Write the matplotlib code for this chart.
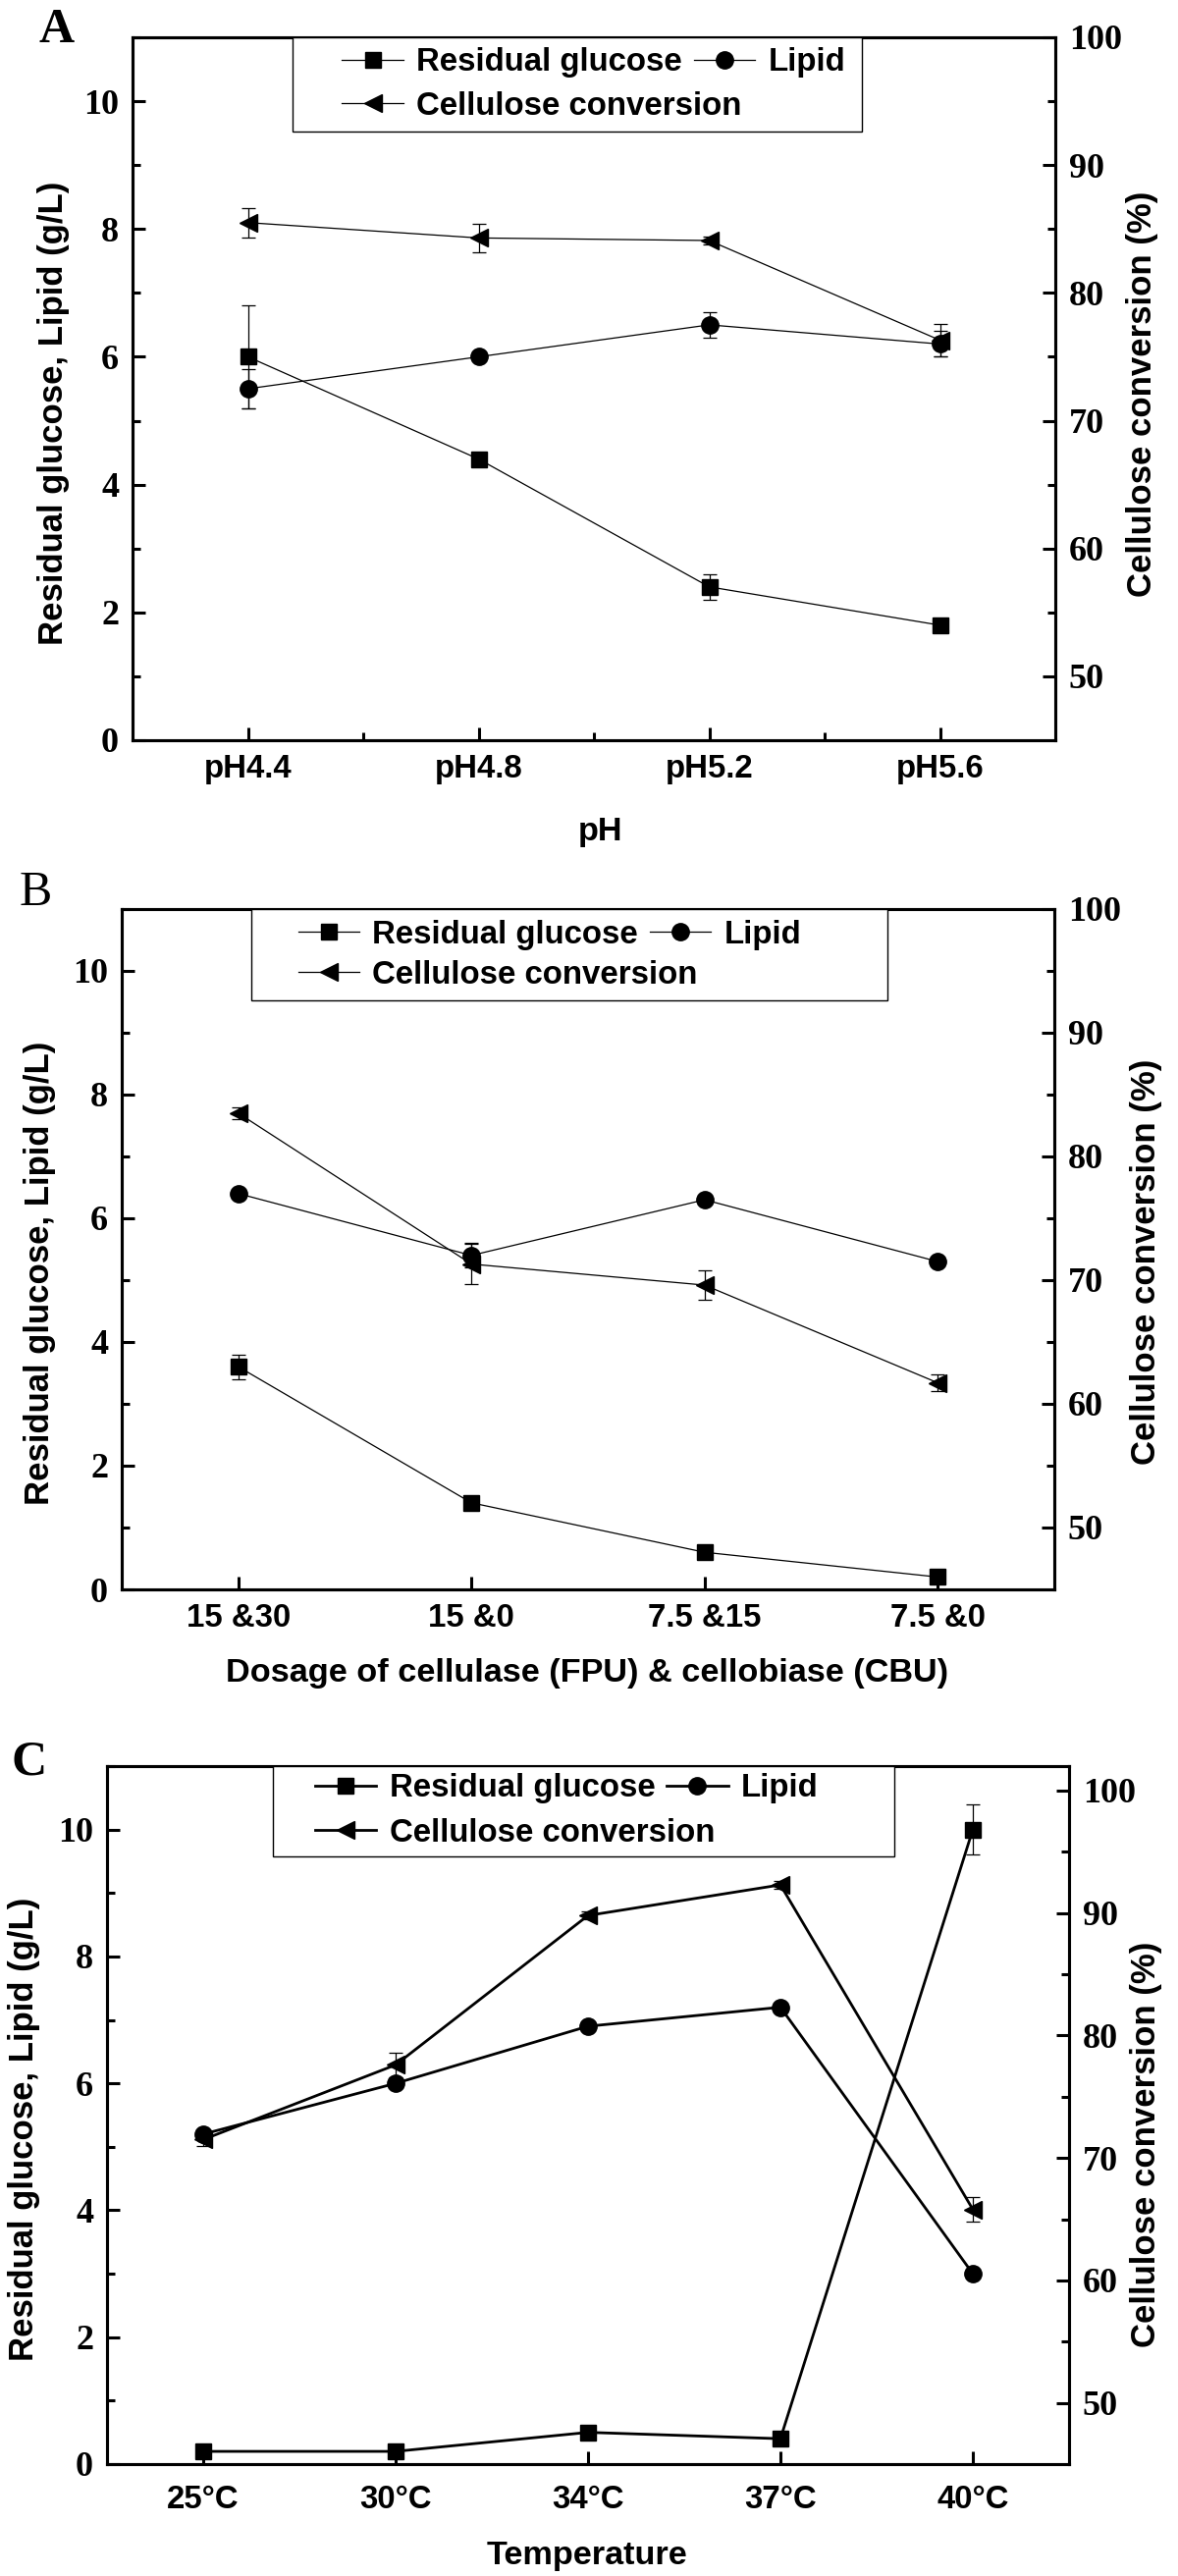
import matplotlib
matplotlib.use('Agg')
import matplotlib.pyplot as plt
from matplotlib.patches import Rectangle
from matplotlib import font_manager

# ---- data ----
# panel A: pH
ph_labels = ['pH4.4', 'pH4.8', 'pH5.2', 'pH5.6']
ph_glucose = [6.0, 4.4, 2.4, 1.8]
ph_glucose_err = [0.8, 0.0, 0.2, 0.0]
ph_lipid = [5.5, 6.0, 6.5, 6.2]
ph_lipid_err = [0.3, 0.0, 0.2, 0.2]
ph_conversion = [85.5, 84.3, 84.1, 76.3]
ph_conversion_err = [1.15, 1.1, 0.3, 1.3]

# panel B: enzyme dosage
dose_labels = ['15 &30', '15 &0', '7.5 &15', '7.5 &0']
dose_glucose = [3.6, 1.4, 0.6, 0.2]
dose_glucose_err = [0.2, 0.0, 0.0, 0.0]
dose_lipid = [6.4, 5.4, 6.3, 5.3]
dose_lipid_err = [0.0, 0.2, 0.0, 0.0]
dose_conversion = [83.5, 71.3, 69.6, 61.7]
dose_conversion_err = [0.5, 1.65, 1.2, 0.65]

# panel C: temperature
temp_labels = ['25\u00b0C', '30\u00b0C', '34\u00b0C', '37\u00b0C', '40\u00b0C']
temp_glucose = [0.2, 0.2, 0.5, 0.4, 10.0]
temp_glucose_err = [0.0, 0.0, 0.0, 0.0, 0.4]
temp_lipid = [5.2, 6.0, 6.9, 7.2, 3.0]
temp_lipid_err = [0.0, 0.0, 0.0, 0.0, 0.0]
temp_conversion = [71.5, 77.6, 89.8, 92.3, 65.8]
temp_conversion_err = [0.5, 1.0, 0.3, 0.3, 1.0]

names = [f.name for f in font_manager.fontManager.ttflist]
HAVE_NARROW = 'Liberation Sans Narrow' in names
SERIF = 'Liberation Serif'
SANS = 'Liberation Sans'
NARROW = 'Liberation Sans Narrow' if HAVE_NARROW else 'Liberation Sans'
NS = 1.0 if HAVE_NARROW else 0.88   # shrink sizes if no condensed face

W, H = 1200, 2624
fig = plt.figure(figsize=(W / 100, H / 100), dpi=100)


def px_rect(left, right, top, bottom):
    return [left / W, 1 - bottom / H, (right - left) / W, (bottom - top) / H]


def errbars(ax, x, y, err, lw):
    xs = [a for a, e in zip(x, err) if e > 0]
    ys = [b for b, e in zip(y, err) if e > 0]
    es = [e for e in err if e > 0]
    if xs:
        ax.errorbar(xs, ys, yerr=es, fmt='none', ecolor='k', elinewidth=lw,
                    capsize=5, capthick=lw, zorder=2)


def panel(rect, labels, glucose, glucose_err, lipid, lipid_err, conv, conv_err,
          conv_top, lw, xlabel, minor_x, lab, frame, rows, tick_pad,
          ylab_pos, rylab_pos, xlab_pos):
    ax = fig.add_axes(rect)
    ax2 = ax.twinx()
    x = list(range(len(labels)))
    ms = 12
    h1, = ax.plot(x, glucose, '-s', color='k', lw=lw, ms=ms, zorder=3)
    h2, = ax.plot(x, lipid, '-o', color='k', lw=lw, ms=ms + 0.5, zorder=3)
    h3, = ax2.plot(x, conv, '-<', color='k', lw=lw, ms=ms + 1, zorder=3)
    errbars(ax, x, glucose, glucose_err, 0.9)
    errbars(ax, x, lipid, lipid_err, 0.9)
    errbars(ax2, x, conv, conv_err, 0.9)

    ax.set_xlim(-0.5, len(labels) - 0.5)
    ax.set_ylim(0, 11)
    ax2.set_ylim(45, conv_top)

    ax.set_xticks(x)
    ax.set_xticklabels(labels, fontfamily=NARROW, fontweight='bold', fontsize=27 * NS)
    if minor_x:
        ax.set_xticks([i + 0.5 for i in x[:-1]], minor=True)
    ax.set_yticks(range(0, 11, 2))
    ax.set_yticklabels([str(v) for v in range(0, 11, 2)], fontfamily=SERIF,
                       fontweight='bold', fontsize=26)
    ax.set_yticks(range(1, 12, 2), minor=True)
    ax2.set_yticks(range(50, 101, 10))
    ax2.set_yticklabels([str(v) for v in range(50, 101, 10)], fontfamily=SERIF,
                        fontweight='bold', fontsize=26)
    ax2.set_yticks(range(55, 100, 10), minor=True)

    for a in (ax, ax2):
        for s in a.spines.values():
            s.set_linewidth(2.2)
        a.tick_params(which='major', direction='in', length=9.5, width=2.2)
        a.tick_params(which='minor', direction='in', length=5.5, width=2.2)
    ax.tick_params(axis='x', which='both', top=False, pad=tick_pad)
    ax.tick_params(axis='y', which='both', right=False, pad=10)
    ax2.tick_params(axis='y', which='both', pad=10)

    ax.set_ylabel('Residual glucose, Lipid (g/L)', fontfamily=SANS, fontweight='bold',
                  fontsize=25, va='center')
    ax.yaxis.set_label_coords(*ylab_pos)
    ax2.set_ylabel('Cellulose conversion (%)', fontfamily=SANS, fontweight='bold',
                   fontsize=25, va='center', rotation=90)
    ax2.yaxis.set_label_coords(*rylab_pos)
    ax.set_xlabel(xlabel, fontfamily=NARROW, fontweight='bold', fontsize=28 * NS, va='center')
    ax.xaxis.set_label_coords(*xlab_pos)

    # legend box (Origin style: two rows in one frame)
    fx0, fx1, fy0 = frame
    ax2.add_patch(Rectangle((fx0, fy0), fx1 - fx0, 1 - fy0, transform=ax2.transAxes,
                            facecolor='white', edgecolor='k', lw=1.0, zorder=10,
                            clip_on=False))
    hx, ry1, ry2 = rows
    prop = dict(family=NARROW, weight='bold', size=27 * NS)
    kw = dict(loc='center left', frameon=False, borderpad=0, borderaxespad=0,
              handlelength=1.9, handletextpad=0.4, columnspacing=0.35, prop=prop)
    leg1 = ax2.legend([h1, h2], ['Residual glucose', 'Lipid'], ncol=2,
                      bbox_to_anchor=(hx, ry1), **kw)
    leg1.set_zorder(11)
    ax2.add_artist(leg1)
    leg2 = ax2.legend([h3], ['Cellulose conversion'], bbox_to_anchor=(hx, ry2), **kw)
    leg2.set_zorder(11)

    fig.text(lab[0] / W, 1 - lab[1] / H, lab[2], ha='left', va='baseline',
             fontfamily=SERIF, fontweight=lab[3], fontsize=36)
    return ax, ax2


panel(px_rect(135, 1075, 38, 754), ph_labels, ph_glucose, ph_glucose_err,
      ph_lipid, ph_lipid_err, ph_conversion, ph_conversion_err, 100, 0.9, 'pH', True,
      (40, 43, 'A', 'bold'), (0.173, 0.790, 0.866), (0.227, 0.964, 0.902), 10,
      (-0.086, 0.466), (1.094, 0.493), (0.507, -0.131))

panel(px_rect(124, 1074, 926, 1619), dose_labels, dose_glucose, dose_glucose_err,
      dose_lipid, dose_lipid_err, dose_conversion, dose_conversion_err, 100, 0.9,
      'Dosage of cellulase (FPU) & cellobiase (CBU)', False,
      (20, 922, 'B', 'normal'), (0.139, 0.821, 0.866), (0.189, 0.962, 0.903), 10,
      (-0.088, 0.465), (1.098, 0.482), (0.499, -0.124))

panel(px_rect(109, 1089, 1799, 2510), temp_labels, temp_glucose, temp_glucose_err,
      temp_lipid, temp_lipid_err, temp_conversion, temp_conversion_err, 102, 2.0,
      'Temperature', False,
      (12, 1808, 'C', 'bold'), (0.172, 0.818, 0.871), (0.216, 0.968, 0.904), 15,
      (-0.086, 0.48), (1.08, 0.458), (0.499, -0.131))

fig.savefig('out.png', dpi=100)
